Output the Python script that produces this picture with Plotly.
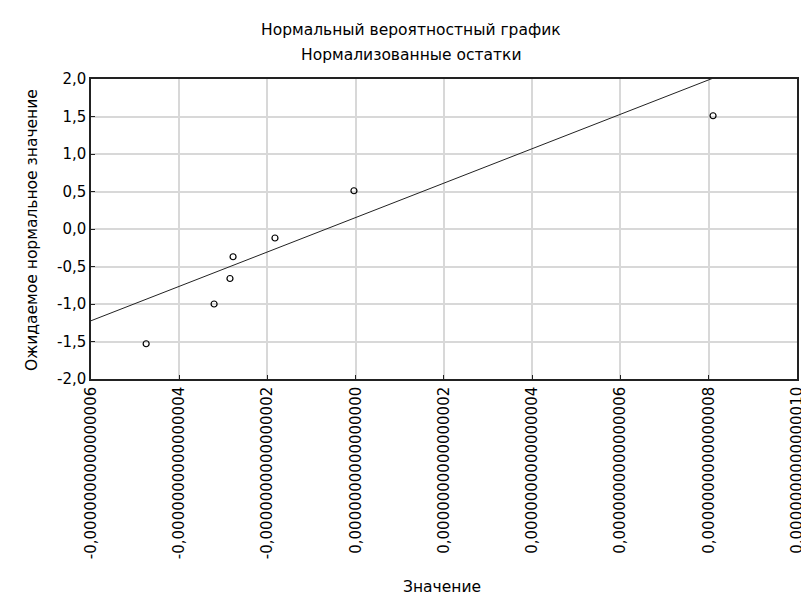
import plotly.graph_objects as go

# Data (x in absolute units, ~1e-16)
x_values = [-4.75e-16, -3.21e-16, -2.85e-16, -2.78e-16, -1.83e-16, -0.04e-16, 8.10e-16]
y_expected = [-1.53, -1.00, -0.66, -0.37, -0.12, 0.51, 1.51]

# Reference line (expected normal value vs value)
fit_intercept = 0.153
fit_slope = 0.2294e16
line_x = [-6e-16, 10e-16]
line_y = [fit_intercept + fit_slope * v for v in line_x]

x_tick_vals = [-6e-16, -4e-16, -2e-16, 0.0, 2e-16, 4e-16, 6e-16, 8e-16, 10e-16]
x_tick_text = ["-0,0000000000000006", "-0,0000000000000004", "-0,0000000000000002",
               "0,0000000000000000", "0,0000000000000002", "0,0000000000000004",
               "0,0000000000000006", "0,0000000000000008", "0,0000000000000010"]
y_tick_vals = [-2.0, -1.5, -1.0, -0.5, 0.0, 0.5, 1.0, 1.5, 2.0]
y_tick_text = ["-2,0", "-1,5", "-1,0", "-0,5", "0,0", "0,5", "1,0", "1,5", "2,0"]

title_line1 = "Нормальный вероятностный график"
title_line2 = "Нормализованные остатки"
x_title = "Значение"
y_title = "Ожидаемое нормальное значение"

FONT = "DejaVu Sans"

fig = go.Figure()
fig.add_trace(go.Scatter(x=line_x, y=line_y, mode="lines",
                         line=dict(color="#222222", width=1), showlegend=False,
                         hoverinfo="skip"))
fig.add_trace(go.Scatter(x=x_values, y=y_expected, mode="markers",
                         marker=dict(symbol="circle-open", size=6, color="#000000",
                                     line=dict(width=1.2, color="#000000")),
                         showlegend=False))

# plot area at 91..797 x 79..379 (page body margin removed below)
fig.update_layout(
    width=801, height=597,
    margin=dict(l=91, r=4, t=79, b=218, autoexpand=False),
    paper_bgcolor="#ffffff", plot_bgcolor="#ffffff",
    font=dict(family=FONT, color="#000000"),
    showlegend=False,
    annotations=[
        dict(text=title_line1, xref="paper", yref="paper", x=0.453, y=1.163,
             xanchor="center", yanchor="middle", showarrow=False,
             font=dict(family=FONT, size=15.5, color="#000000")),
        dict(text=title_line2, xref="paper", yref="paper", x=0.453, y=1.08,
             xanchor="center", yanchor="middle", showarrow=False,
             font=dict(family=FONT, size=15.5, color="#000000")),
        dict(text=x_title, xref="paper", yref="paper", x=0.497, y=-0.693,
             xanchor="center", yanchor="middle", showarrow=False,
             font=dict(family=FONT, size=15.5, color="#000000")),
        dict(text=y_title, xref="paper", yref="paper", x=-0.0836, y=0.497,
             xanchor="center", yanchor="middle", showarrow=False, textangle=-90,
             font=dict(family=FONT, size=15.5, color="#000000")),
    ],
)

fig.update_xaxes(
    range=[-6e-16, 10.003e-16], tickmode="array", tickvals=x_tick_vals, ticktext=x_tick_text,
    tickangle=-90, tickfont=dict(family=FONT, size=15, color="#000000"),
    automargin=False, ticklabeloverflow="allow",
    showgrid=True, gridcolor="#d8d8d8", gridwidth=1.5, zeroline=False,
    showline=True, linecolor="#222222", linewidth=1.5, mirror=True,
    ticks="inside", ticklen=4, tickcolor="#222222",
)
fig.update_yaxes(
    range=[-2.0, 2.0], tickmode="array", tickvals=y_tick_vals, ticktext=y_tick_text,
    tickfont=dict(family=FONT, size=15, color="#000000"),
    automargin=False, ticklabeloverflow="allow",
    showgrid=True, gridcolor="#d8d8d8", gridwidth=1.5, zeroline=False,
    showline=True, linecolor="#222222", linewidth=1.5, mirror=True,
    ticks="inside", ticklen=4, tickcolor="#222222",
)

fig.write_html("out.html",
               config={"displayModeBar": False},
               post_script="document.body.style.margin='0px';document.body.style.overflow='hidden';")
